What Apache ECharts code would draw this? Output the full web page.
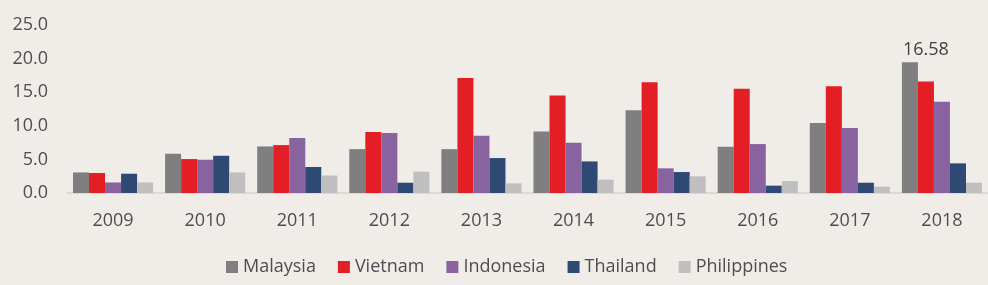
<!DOCTYPE html>
<html>
<head>
<meta charset="utf-8">
<script src="https://cdn.jsdelivr.net/npm/echarts@6/dist/echarts.min.js"></script>
<style>
html,body{margin:0;padding:0;background:#f0ede8;}
#c{width:988px;height:285px;}
</style>
</head>
<body>
<div id="c"></div>
<script>
var categories = ['2009','2010','2011','2012','2013','2014','2015','2016','2017','2018'];
var malaysia    = [3.06, 5.84, 6.93, 6.53, 6.53, 9.15, 12.33, 6.88, 10.40, 19.47];
var vietnam     = [2.97, 5.05, 7.13, 9.06, 17.13, 14.50, 16.49, 15.50, 15.90, 16.58];
var indonesia   = [1.57, 4.95, 8.17, 8.91, 8.51, 7.48, 3.67, 7.28, 9.66, 13.57];
var thailand    = [2.87, 5.54, 3.87, 1.53, 5.20, 4.70, 3.12, 1.09, 1.53, 4.41];
var philippines = [1.57, 3.06, 2.60, 3.18, 1.44, 1.98, 2.48, 1.78, 0.94, 1.53];
var yTicks = [0, 5, 10, 15, 20, 25];
var seriesNames = ['Malaysia','Vietnam','Indonesia','Thailand','Philippines'];
var colors = ['#7f7f7f','#e31e25','#8963a0','#2e4a74','#bfbfbf'];
var labelledIndex = 9; // 2018 Vietnam

var font = 'Open Sans';
var textColor = '#4d4d52';
var vietData = vietnam.map(function(v, i){
  if (i === labelledIndex) {
    return {value: v, label: {show: true, position: 'top', offset: [0, -18],
      formatter: function(p){ return p.value.toFixed(2); },
      color: '#404040', fontSize: 18, fontFamily: font}};
  }
  return v;
});
var datas = [malaysia, vietData, indonesia, thailand, philippines];

var chart = echarts.init(document.getElementById('c'), null, {renderer:'canvas'});
chart.setOption({
  backgroundColor: '#f0ede8',
  animation: false,
  color: colors,
  textStyle: {fontFamily: font},
  grid: {left: 67, right: 0, top: 25, bottom: 92, containLabel: false},
  legend: {
    left: 226, top: 258, padding: 0,
    itemWidth: 12, itemHeight: 12, itemGap: 22,
    icon: 'rect',
    textStyle: {color: textColor, fontSize: 18, fontFamily: font},
    data: seriesNames
  },
  xAxis: {
    type: 'category',
    data: categories,
    axisLine: {lineStyle: {color: '#d5d3cf', width: 1.5}},
    axisTick: {show: false},
    axisLabel: {color: textColor, fontSize: 18, fontFamily: font, margin: 19}
  },
  yAxis: {
    type: 'value',
    min: yTicks[0], max: yTicks[yTicks.length-1], interval: yTicks[1]-yTicks[0],
    axisLine: {show: false},
    axisTick: {show: false},
    splitLine: {show: false},
    axisLabel: {color: textColor, fontSize: 18, fontFamily: font, margin: 19,
      formatter: function(v){ return v.toFixed(1); }}
  },
  series: seriesNames.map(function(n, i){
    return {
      name: n, type: 'bar', data: datas[i],
      barGap: '0%', barCategoryGap: '13%',
      itemStyle: {color: colors[i]}
    };
  })
});
</script>
</body>
</html>
